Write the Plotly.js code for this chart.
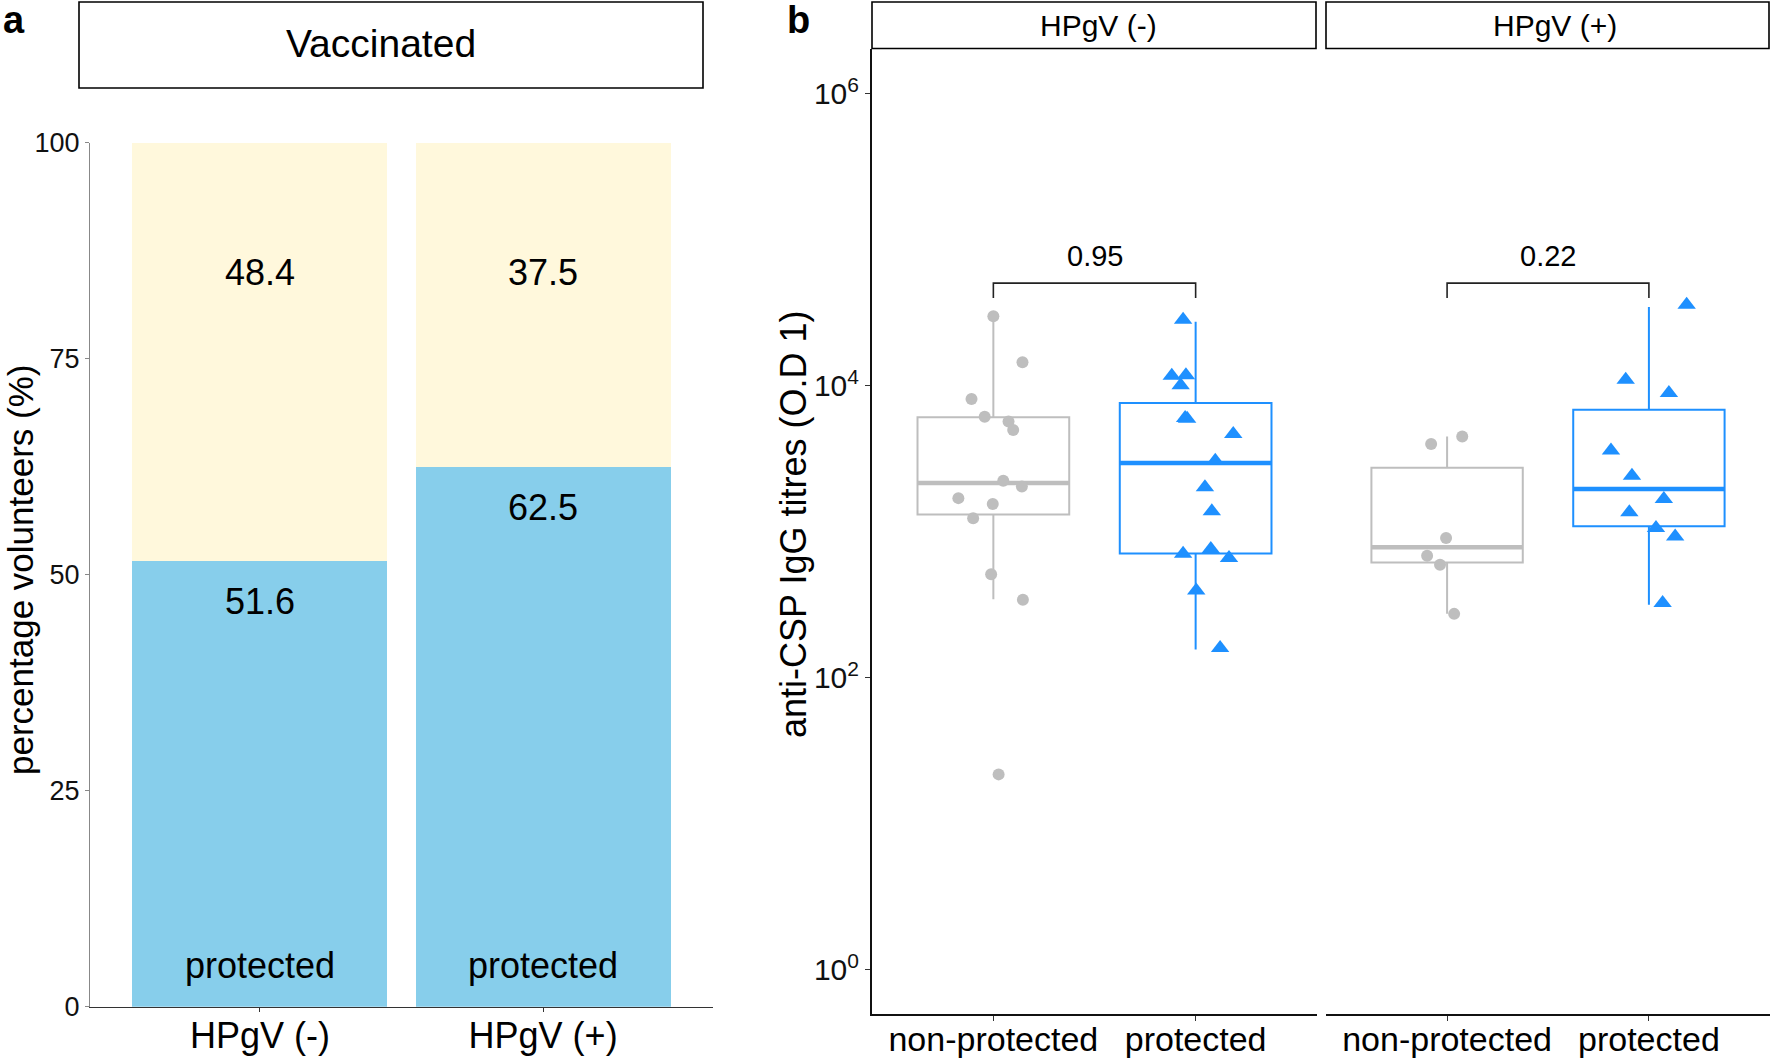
<!DOCTYPE html>
<html>
<head>
<meta charset="utf-8">
<script src="https://cdn.plot.ly/plotly-3.0.1.min.js"></script>
<style>html,body{margin:0;padding:0;background:#fff;}#chart{width:1770px;height:1059px;}</style>
</head>
<body>
<div id="chart"></div>
<script>
// ---------- Panel a data ----------
const barCategories = ["HPgV (-)", "HPgV (+)"];
const protectedPct = [51.6, 62.5];
const nonProtectedPct = [48.4, 37.5];
const pctTicks = [0, 25, 50, 75, 100];
const panelATitle = "Vaccinated";

// ---------- Panel b data ----------
const facetLabels = ["HPgV (-)", "HPgV (+)"];
const groupLabels = ["non-protected", "protected"];
const groupPositions = [1, 2];
const titreTickVals = [1, 100, 10000, 1000000];
const titreTickText = ["10<sup>0</sup>", "10<sup>2</sup>", "10<sup>4</sup>", "10<sup>6</sup>"];

// HPgV (-)
const negNonProtTitres = [29900, 14500, 8110, 6140, 5690, 4980, 2240, 2040, 1700, 1550, 1240, 511, 342, 21.8];
const negNonProtJitter = [0.0, 0.144, -0.108, -0.043, 0.075, 0.098, 0.049, 0.141, -0.173, -0.003, -0.100, -0.011, 0.146, 0.026];
const negProtTitres = [28300, 11700, 11800, 10100, 6010, 5940, 4670, 3060, 2020, 1380, 707, 762, 661, 396, 160];
const negProtJitter = [-0.062, -0.118, -0.048, -0.074, -0.052, -0.042, 0.186, 0.097, 0.046, 0.080, -0.062, 0.075, 0.165, 0.003, 0.121];
// HPgV (+)
const posNonProtTitres = [3990, 4500, 906, 685, 594, 274];
const posNonProtJitter = [-0.079, 0.075, -0.005, -0.099, -0.035, 0.035];
const posProtTitres = [35900, 11000, 8910, 3610, 2420, 1680, 1360, 1060, 929, 325];
const posProtJitter = [0.187, -0.115, 0.099, -0.188, -0.084, 0.074, -0.097, 0.035, 0.130, 0.068];

// box statistics: [non-protected, protected]
const negQ1 = [1315, 711], negMedian = [2160, 2960], negQ3 = [6080, 7620], negLower = [345, 156], negUpper = [29900, 27400];
const posQ1 = [617, 1090], posMedian = [785, 1960], posQ3 = [2750, 6850], posLower = [274, 316], posUpper = [4500, 34600];

// significance brackets
const pValues = ["0.95", "0.22"];
const bracketLow = [39900, 39900];
const bracketHigh = [50500, 50500];

// ---------- styling ----------
const W = 1770, H = 1059;
const FONT = "Liberation Sans, Arial, Helvetica, sans-serif";
const GREY = "#BEBEBE", BLUE = "#1E90FF";
const px = v => v / W;
const py = v => 1 - v / H;

const traces = [];

// Panel a stacked bars
traces.push({
  type: "bar", x: barCategories, y: protectedPct, xaxis: "x", yaxis: "y",
  marker: {color: "#87CEEB", line: {width: 0}}, showlegend: false, hoverinfo: "skip"
});
traces.push({
  type: "bar", x: barCategories, y: nonProtectedPct, xaxis: "x", yaxis: "y",
  marker: {color: "#FFF8DC", line: {width: 0}}, showlegend: false, hoverinfo: "skip"
});

// Panel b
const facets = [
  {xa: "x2", ya: "y2", q1: negQ1, med: negMedian, q3: negQ3, lo: negLower, hi: negUpper,
   pts: [[negNonProtTitres, negNonProtJitter], [negProtTitres, negProtJitter]]},
  {xa: "x3", ya: "y3", q1: posQ1, med: posMedian, q3: posQ3, lo: posLower, hi: posUpper,
   pts: [[posNonProtTitres, posNonProtJitter], [posProtTitres, posProtJitter]]}
];
const groupColors = [GREY, BLUE];
const groupSymbols = ["circle", "triangle-up"];
const groupSizes = [12, 16];
const boxWidth = 0.75;

facets.forEach((f, fi) => {
  for (let g = 0; g < 2; g++) {
    traces.push({
      type: "box", x: [groupPositions[g]], q1: [f.q1[g]], median: [f.med[g]], q3: [f.q3[g]],
      lowerfence: [f.lo[g]], upperfence: [f.hi[g]], width: boxWidth,
      xaxis: f.xa, yaxis: f.ya, boxpoints: false, whiskerwidth: 0,
      line: {color: groupColors[g], width: 2}, fillcolor: "rgba(255,255,255,0)",
      showlegend: false, hoverinfo: "skip"
    });
    // thicker median line (ggplot fatten)
    traces.push({
      type: "scatter", mode: "lines",
      x: [groupPositions[g] - boxWidth / 2, groupPositions[g] + boxWidth / 2],
      y: [f.med[g], f.med[g]], xaxis: f.xa, yaxis: f.ya,
      line: {color: groupColors[g], width: 4.5}, showlegend: false, hoverinfo: "skip"
    });
  }
  for (let g = 0; g < 2; g++) {
    const vals = f.pts[g][0], jit = f.pts[g][1];
    traces.push({
      type: "scatter", mode: "markers",
      x: jit.map(j => groupPositions[g] + j), y: vals, xaxis: f.xa, yaxis: f.ya,
      marker: {color: groupColors[g], symbol: groupSymbols[g], size: groupSizes[g], line: {width: 0}},
      showlegend: false, hoverinfo: "skip"
    });
  }
  // bracket
  traces.push({
    type: "scatter", mode: "lines",
    x: [groupPositions[0], groupPositions[0], groupPositions[1], groupPositions[1]],
    y: [bracketLow[fi], bracketHigh[fi], bracketHigh[fi], bracketLow[fi]],
    xaxis: f.xa, yaxis: f.ya, line: {color: "#222", width: 1.6},
    showlegend: false, hoverinfo: "skip"
  });
});

const annotations = [];
// panel labels
annotations.push({xref: "paper", yref: "paper", x: px(1), y: py(20), xanchor: "left", yanchor: "middle",
  text: "<b>a</b>", showarrow: false, font: {family: FONT, size: 38, color: "#000"}});
annotations.push({xref: "paper", yref: "paper", x: px(785), y: py(20), xanchor: "left", yanchor: "middle",
  text: "<b>b</b>", showarrow: false, font: {family: FONT, size: 38, color: "#000"}});
// strip texts
annotations.push({xref: "paper", yref: "paper", x: px(381), y: py(43), xanchor: "center", yanchor: "middle",
  text: panelATitle, showarrow: false, font: {family: FONT, size: 39, color: "#000"}});
annotations.push({xref: "paper", yref: "paper", x: px(1098), y: py(25), xanchor: "center", yanchor: "middle",
  text: facetLabels[0], showarrow: false, font: {family: FONT, size: 30, color: "#000"}});
annotations.push({xref: "paper", yref: "paper", x: px(1555), y: py(25), xanchor: "center", yanchor: "middle",
  text: facetLabels[1], showarrow: false, font: {family: FONT, size: 30, color: "#000"}});
// axis titles
annotations.push({xref: "paper", yref: "paper", x: px(20), y: py(570), xanchor: "center", yanchor: "middle",
  textangle: -90, text: "percentage volunteers (%)", showarrow: false, font: {family: FONT, size: 35, color: "#000"}});
annotations.push({xref: "paper", yref: "paper", x: px(793), y: py(525), xanchor: "center", yanchor: "middle",
  textangle: -90, text: "anti-CSP IgG titres (O.D 1)", showarrow: false, font: {family: FONT, size: 36, color: "#000"}});
// bar labels
barCategories.forEach((c, i) => {
  annotations.push({xref: "x", yref: "y", x: c, y: 100, yshift: -130, yanchor: "middle", xanchor: "center",
    text: nonProtectedPct[i].toFixed(1), showarrow: false, font: {family: FONT, size: 36, color: "#000"}});
  annotations.push({xref: "x", yref: "y", x: c, y: protectedPct[i], yshift: -41, yanchor: "middle", xanchor: "center",
    text: protectedPct[i].toFixed(1), showarrow: false, font: {family: FONT, size: 36, color: "#000"}});
  annotations.push({xref: "x", yref: "y", x: c, y: 0, yshift: 41, yanchor: "middle", xanchor: "center",
    text: "protected", showarrow: false, font: {family: FONT, size: 36, color: "#000"}});
});
// p-values
["x2", "x3"].forEach((xa, i) => {
  annotations.push({xref: xa, yref: xa.replace("x", "y"), x: (groupPositions[0] + groupPositions[1]) / 2,
    y: Math.log10(bracketHigh[i]), yanchor: "bottom", yshift: 9, xanchor: "center",
    text: pValues[i], showarrow: false, font: {family: FONT, size: 29, color: "#000"}});
});

const shapes = [
  {type: "rect", xref: "paper", yref: "paper", x0: px(79), x1: px(703), y0: py(88), y1: py(2),
   line: {color: "#000", width: 1.6}, fillcolor: "#fff", layer: "below"},
  {type: "rect", xref: "paper", yref: "paper", x0: px(872), x1: px(1316), y0: py(48.5), y1: py(2),
   line: {color: "#000", width: 1.6}, fillcolor: "#fff", layer: "below"},
  {type: "rect", xref: "paper", yref: "paper", x0: px(1326), x1: px(1769), y0: py(48.5), y1: py(2),
   line: {color: "#000", width: 1.6}, fillcolor: "#fff", layer: "below"}
];

const layout = {
  width: W, height: H, margin: {l: 0, r: 0, t: 0, b: 0, pad: 0},
  paper_bgcolor: "#fff", plot_bgcolor: "rgba(0,0,0,0)",
  barmode: "stack", bargap: 0.1, showlegend: false,
  font: {family: FONT, color: "#000"},
  xaxis: {domain: [px(90), px(713)], anchor: "y", type: "category", range: [-0.6, 1.6],
    showline: true, linecolor: "#333", linewidth: 1.5, ticks: "outside", ticklen: 4, tickcolor: "#333",
    ticklabelstandoff: -7,
    tickfont: {family: FONT, size: 36, color: "#000"}, showgrid: false, zeroline: false, fixedrange: true},
  yaxis: {domain: [py(1006.7), py(142.7)], anchor: "x", range: [0, 100], tickvals: pctTicks,
    showline: true, linecolor: "#888", linewidth: 1, ticks: "outside", ticklen: 4, tickcolor: "#888",
    tickfont: {family: FONT, size: 27, color: "#111"}, showgrid: false, zeroline: false, fixedrange: true},
  xaxis2: {domain: [px(872), px(1317)], anchor: "y2", range: [0.4, 2.6], tickvals: groupPositions, ticktext: groupLabels,
    showline: true, linecolor: "#111", linewidth: 2, ticks: "outside", ticklen: 5, tickcolor: "#333",
    ticklabelstandoff: -10,
    tickfont: {family: FONT, size: 34, color: "#000"}, showgrid: false, zeroline: false},
  yaxis2: {domain: [py(1013.6), py(48.5)], anchor: "x2", type: "log", range: [-0.3, 6.31],
    tickvals: titreTickVals, ticktext: titreTickText,
    showline: true, linecolor: "#111", linewidth: 2, ticks: "outside", ticklen: 5, tickcolor: "#333",
    tickfont: {family: FONT, size: 30, color: "#111"}, showgrid: false, zeroline: false},
  xaxis3: {domain: [px(1326), px(1770)], anchor: "y3", range: [0.4, 2.6], tickvals: groupPositions, ticktext: groupLabels,
    showline: true, linecolor: "#111", linewidth: 2, ticks: "outside", ticklen: 5, tickcolor: "#333",
    ticklabelstandoff: -10,
    tickfont: {family: FONT, size: 34, color: "#000"}, showgrid: false, zeroline: false},
  yaxis3: {domain: [py(1013.6), py(48.5)], anchor: "x3", type: "log", range: [-0.3, 6.31],
    showticklabels: false, showline: false, ticks: "", showgrid: false, zeroline: false},
  annotations: annotations,
  shapes: shapes
};

Plotly.newPlot("chart", traces, layout, {displayModeBar: false, staticPlot: true});
</script>
</body>
</html>
